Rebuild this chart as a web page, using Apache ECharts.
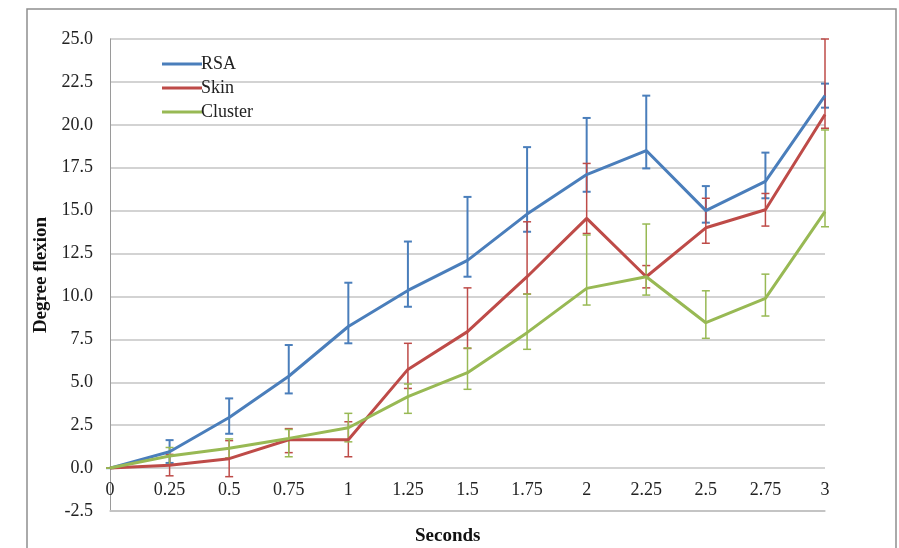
<!DOCTYPE html>
<html>
<head>
<meta charset="utf-8">
<script src="https://cdn.jsdelivr.net/npm/echarts@6/dist/echarts.min.js"></script>
<style>
  html, body { margin: 0; padding: 0; background: #fff; }
  #chart { width: 899px; height: 548px; }
</style>
</head>
<body>
<div id="chart"></div>
<script>
// seconds on the x axis
const seconds = ['0', '0.25', '0.5', '0.75', '1', '1.25', '1.5', '1.75', '2', '2.25', '2.5', '2.75', '3']

// mean degree flexion
const rsa     = [0, 0.95, 2.95, 5.35, 8.25, 10.35, 12.1, 14.8, 17.1, 18.5, 15.0, 16.7, 21.7]
const skin    = [0, 0.17, 0.55, 1.65, 1.65, 5.75, 7.95, 11.15, 14.55, 11.15, 14.0, 15.05, 20.6]
const cluster = [0, 0.7, 1.15, 1.73, 2.35, 4.16, 5.56, 7.89, 10.47, 11.15, 8.47, 9.89, 14.94]

// error bar ends (top / bottom)
const rsaHigh     = [0, 1.63, 4.06, 7.17, 10.8, 13.2, 15.8, 18.7, 20.4, 21.7, 16.43, 18.38, 22.4]
const rsaLow      = [0, 0.3, 2.0, 4.35, 7.27, 9.4, 11.15, 13.77, 16.1, 17.46, 14.3, 15.72, 21.0]
const skinHigh    = [0, 0.8, 1.6, 2.3, 2.7, 7.27, 10.5, 14.35, 17.75, 11.8, 15.72, 16.0, 25.0]
const skinLow     = [0, -0.45, -0.5, 0.9, 0.66, 4.64, 6.97, 10.14, 13.67, 10.5, 13.1, 14.1, 19.8]
const clusterHigh = [0, 1.2, 1.7, 2.25, 3.19, 4.9, 7.0, 10.14, 13.58, 14.22, 10.33, 11.3, 19.7]
const clusterLow  = [0, 0.2, 0.6, 0.66, 1.53, 3.19, 4.59, 6.92, 9.5, 10.08, 7.56, 8.86, 14.06]

const yTicks = { min: -2.5, max: 25, step: 2.5 }

const colors = { RSA: '#4a7ebb', Skin: '#be4b48', Cluster: '#98b954' }
const gridColor = '#c4c4c4'

function errData(low, high) {
  return low.map((v, i) => [i, v, high[i]])
}

function errSeries(name, low, high, width) {
  return {
    name: name,
    type: 'custom',
    z: 3,
    data: errData(low, high),
    encode: { x: 0, y: [1, 2] },
    itemStyle: { color: colors[name] },
    renderItem: function (params, api) {
      const x = api.value(0)
      const lo = api.coord([x, api.value(1)])
      const hi = api.coord([x, api.value(2)])
      const w = 4
      const style = { stroke: colors[name], lineWidth: width }
      return {
        type: 'group',
        children: [
          { type: 'line', shape: { x1: lo[0], y1: lo[1], x2: hi[0], y2: hi[1] }, style: style },
          { type: 'line', shape: { x1: lo[0] - w, y1: lo[1], x2: lo[0] + w, y2: lo[1] }, style: style },
          { type: 'line', shape: { x1: hi[0] - w, y1: hi[1], x2: hi[0] + w, y2: hi[1] }, style: style }
        ]
      }
    }
  }
}

function lineSeries(name, data) {
  return {
    name: name,
    type: 'line',
    data: data,
    z: 4,
    symbol: 'none',
    lineStyle: { color: colors[name], width: 3 },
    itemStyle: { color: colors[name] }
  }
}

const font = 'Liberation Serif'

let myChart = echarts.init(document.getElementById('chart'))
let option = {
  animation: false,
  textStyle: { fontFamily: font },
  graphic: [
    {
      type: 'rect',
      shape: { x: 27, y: 9, width: 869, height: 580 },
      style: { fill: 'none', stroke: '#8e8e8e', lineWidth: 1.5 },
      silent: true
    },
    {
      type: 'text',
      left: 415,
      top: 527,
      style: { text: 'Seconds', font: 'bold 19px "Liberation Serif"', fill: '#111' }
    }
  ],
  legend: {
    orient: 'vertical',
    left: 157,
    top: 50,
    itemWidth: 40,
    itemHeight: 3,
    itemGap: 6,
    icon: 'rect',
    data: ['RSA', 'Skin', 'Cluster'],
    textStyle: { fontFamily: font, fontSize: 18, color: '#222', padding: [0, 0, 0, -6] }
  },
  grid: {
    left: 110,
    right: 74,
    top: 39,
    bottom: 37
  },
  xAxis: {
    type: 'category',
    boundaryGap: false,
    data: seconds,
    // labels pulled up under the zero line
    axisLine: { onZero: false, lineStyle: { color: gridColor, width: 1.5 } },
    axisTick: { show: false },
    axisLabel: { color: '#222', fontFamily: font, fontSize: 18, margin: -30 },
    splitLine: { show: false }
  },
  yAxis: {
    type: 'value',
    min: yTicks.min,
    max: yTicks.max,
    interval: yTicks.step,
    name: 'Degree flexion',
    nameLocation: 'middle',
    nameRotate: 90,
    nameGap: 53,
    nameTextStyle: { fontFamily: font, fontSize: 19, fontWeight: 'bold', color: '#111' },
    axisLine: { show: true, lineStyle: { color: '#9a9a9a' } },
    axisTick: { show: false },
    axisLabel: {
      color: '#222',
      fontFamily: font,
      fontSize: 18,
      margin: 17,
      formatter: v => v.toFixed(1)
    },
    splitLine: {
      show: true,
      lineStyle: { color: gridColor, width: 1.5 }
    }
  },
  series: [
    {
      // bottom gridline at -2.5
      name: 'floor',
      type: 'line',
      data: seconds.map(() => yTicks.min),
      symbol: 'none',
      silent: true,
      clip: false,
      z: 1,
      lineStyle: { color: gridColor, width: 1.5 }
    },
    errSeries('RSA', rsaLow, rsaHigh, 2),
    errSeries('Skin', skinLow, skinHigh, 1.5),
    errSeries('Cluster', clusterLow, clusterHigh, 1.5),
    lineSeries('RSA', rsa),
    lineSeries('Skin', skin),
    lineSeries('Cluster', cluster)
  ]
}
myChart.setOption(option)
</script>
</body>
</html>
